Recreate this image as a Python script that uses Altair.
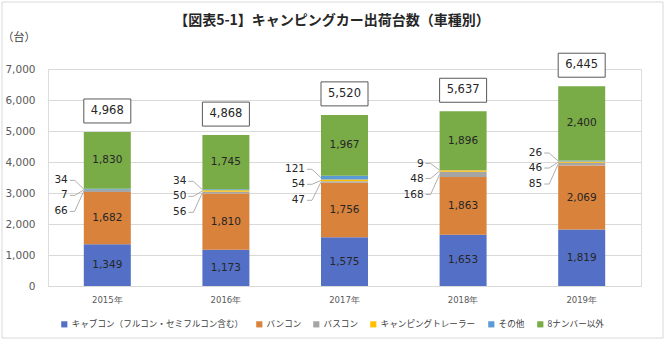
import altair as alt
import pandas as pd

# Shipments of camping cars by body type (units)
years = ["2015年", "2016年", "2017年", "2018年", "2019年"]
series = [
    "キャブコン（フルコン・セミフルコン含む）",
    "バンコン",
    "バスコン",
    "キャンピングトレーラー",
    "その他",
    "8ナンバー以外",
]
cab = [1349, 1173, 1575, 1653, 1819]
van = [1682, 1810, 1756, 1863, 2069]
bus = [66, 56, 47, 168, 85]
trailer = [7, 50, 54, 48, 46]
other = [34, 34, 121, 9, 26]
non8 = [1830, 1745, 1967, 1896, 2400]
totals = [4968, 4868, 5520, 5637, 6445]
colors = ["#5470c6", "#d9823b", "#a5a5a5", "#ffc000", "#5b9bd5", "#79ab46"]

JP = "Noto Sans CJK JP"
NUM = "DejaVu Sans"

values = [cab, van, bus, trailer, other, non8]
rows = []
for i, yr in enumerate(years):
    base = 0
    small_lo = cab[i] + van[i]
    small_hi = small_lo + bus[i] + trailer[i] + other[i]
    for k, name in enumerate(series):
        v = values[k][i]
        rows.append({
            "year": yr, "series": name, "order": k, "value": v,
            "start": base, "end": base + v, "mid": base + v / 2,
            "junction": (small_lo + small_hi) / 2,
            "label": f"{v:,}",
        })
        base += v
df = pd.DataFrame(rows)
tot = pd.DataFrame({"year": years, "total": totals, "label": [f"{t:,}" for t in totals]})

W, H = 593, 217
BAR_W = 47
HALF = BAR_W / 2

x_scale = alt.Scale(domain=years, paddingInner=0, paddingOuter=0)
x_axis = alt.Axis(labelAngle=0, labelFontSize=8.5, labelFont=NUM,
                  labelColor="#595959", ticks=False, domainColor="#d9d9d9",
                  labelPadding=9)
y_scale = alt.Scale(domain=[0, 7000], nice=False)
y_axis = alt.Axis(values=list(range(0, 7001, 1000)), format=",d",
                  labelFontSize=10.5, labelFont=NUM, labelColor="#595959",
                  gridColor="#d9d9d9", domain=False, ticks=False,
                  labelPadding=13, labelOverlap=False)


def xq():
    return alt.X("year:N", sort=years, title=None, scale=x_scale, axis=x_axis)


def yq(field):
    return alt.Y(f"{field}:Q", title=None, scale=y_scale, axis=y_axis)


bars = alt.Chart(df).mark_bar(width=BAR_W).encode(
    x=xq(),
    y=yq("start"),
    y2="end:Q",
    color=alt.Color("series:N", sort=series,
                    scale=alt.Scale(domain=series, range=colors),
                    legend=alt.Legend(title=None, orient="none", direction="horizontal",
                                      legendX=12, legendY=251,
                                      symbolType="square", symbolSize=38,
                                      symbolStrokeWidth=0, labelFont=JP,
                                      labelFontSize=8.6, labelColor="#404040",
                                      columnPadding=11, labelOffset=3,
                                      labelLimit=300)),
    order="order:Q",
)

big = ["キャブコン（フルコン・セミフルコン含む）", "バンコン", "8ナンバー以外"]
big_labels = alt.Chart(df).transform_filter(
    alt.FieldOneOfPredicate(field="series", oneOf=big)
).mark_text(font=NUM, fontSize=10.5, color="#262626", baseline="middle").encode(
    x=xq(), y=yq("mid"), text="label:N")

# Small segments get labels to the left of the bar with leader lines
layers = [bars, big_labels]
offsets = {"バスコン": 21, "キャンピングトレーラー": 5, "その他": -10}
for name, dy in offsets.items():
    src = alt.Chart(df).transform_filter(alt.datum.series == name)
    diag = src.mark_rule(color="#a6a6a6", strokeWidth=0.9,
                         xOffset=-HALF, x2Offset=-HALF - 9, y2Offset=dy).encode(
        x=xq(), x2="year:N", y=yq("mid"), y2="junction:Q")
    flat = src.mark_rule(color="#a6a6a6", strokeWidth=0.9,
                         xOffset=-HALF - 9, x2Offset=-HALF - 14,
                         yOffset=dy, y2Offset=dy).encode(
        x=xq(), x2="year:N", y=yq("junction"), y2="junction:Q")
    txt = src.mark_text(font=NUM, fontSize=10.5, color="#262626", align="right",
                        baseline="middle", dx=-HALF - 16, dy=dy).encode(
        x=xq(), y=yq("junction"), text="label:N")
    layers += [diag, flat, txt]

box = alt.Chart(tot).mark_bar(width=BAR_W, fill="white", stroke="#595959",
                              strokeWidth=1, yOffset=-9, y2Offset=-33).encode(
    x=xq(), y=yq("total"), y2="total:Q")
box_txt = alt.Chart(tot).mark_text(font=NUM, fontSize=11.5, color="#262626",
                                   baseline="middle", dy=-21).encode(
    x=xq(), y=yq("total"), text="label:N")
layers += [box, box_txt]

one = pd.DataFrame({"t": [0]})
title = alt.Chart(one).mark_text(
    text="【図表5-1】キャンピングカー出荷台数（車種別）", font=JP, fontSize=14,
    fontWeight="bold", color="#262626", baseline="middle", align="center").encode(
    x=alt.value(284), y=alt.value(-48))
unit = alt.Chart(one).mark_text(
    text="（台）", font=JP, fontSize=11, color="#404040", baseline="middle",
    align="center").encode(x=alt.value(-29), y=alt.value(-31))
frame = alt.Chart(one).mark_rect(fill="transparent", stroke="#d9d9d9",
                                 strokeWidth=1).encode(
    x=alt.value(-46), x2=alt.value(615), y=alt.value(-67), y2=alt.value(269))
layers += [title, unit, frame]

chart = alt.layer(*layers).properties(
    width=W, height=H,
    padding={"left": 48, "top": 69, "right": 25, "bottom": 58},
    autosize=alt.AutoSizeParams(type="none"),
).configure_view(stroke=None).configure(background="white")

chart.save("out.html", embed_options={"renderer": "svg", "actions": False})
